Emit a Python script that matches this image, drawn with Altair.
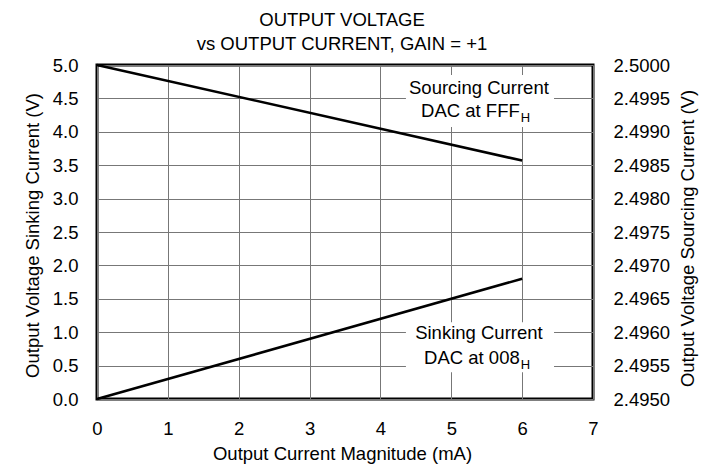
import altair as alt
import pandas as pd

FONT = "Liberation Sans, Arial, sans-serif"
FS = 18.5

# ---- data ----
current_ma = [0, 6]
sinking_v = [0.0, 1.80]          # left axis (V)
sourcing_v = [2.5000, 2.49857]   # right axis (V)

x_ticks = [0, 1, 2, 3, 4, 5, 6, 7]
left_ticks = [0.0, 0.5, 1.0, 1.5, 2.0, 2.5, 3.0, 3.5, 4.0, 4.5, 5.0]
right_ticks = [2.4950, 2.4955, 2.4960, 2.4965, 2.4970, 2.4975,
               2.4980, 2.4985, 2.4990, 2.4995, 2.5000]

# annotation boxes (left-axis units)
box_x = [4.36, 4.36]
box_x2 = [6.45, 6.45]
box_y = [4.85, 1.15]
box_y2 = [4.07, 0.40]

title_lines = ["Sourcing Current", "Sinking Current"]
title_x = [5.39, 5.39]
title_y = [4.66, 0.99]

dac_lines = ["DAC at FFF", "DAC at 008"]
dac_x = [5.966, 5.966]
dac_y = [4.31, 0.61]
sub_text = ["H", "H"]
sub_x = [5.98, 5.98]

sink_df = pd.DataFrame({"i": current_ma, "v": sinking_v})
src_df = pd.DataFrame({"i": current_ma, "v": sourcing_v})
box_df = pd.DataFrame({"i": box_x, "i2": box_x2, "v": box_y, "v2": box_y2})
t1_df = pd.DataFrame({"i": title_x, "v": title_y, "t": title_lines})
t2_df = pd.DataFrame({"i": dac_x, "v": dac_y, "t": dac_lines})
t3_df = pd.DataFrame({"i": sub_x, "v": dac_y, "t": sub_text})

W, H = 496, 334

x_enc = alt.X(
    "i:Q",
    scale=alt.Scale(domain=[0, 7], nice=False, zero=False),
    axis=alt.Axis(values=x_ticks, format="d", title="Output Current Magnitude (mA)",
                  grid=True, labelFlush=False, labelBaseline="middle", labelPadding=29,
                  titleX=W / 2 - 3, titleY=54, titleBaseline="middle"),
)

y_left = alt.Y(
    "v:Q",
    scale=alt.Scale(domain=[0, 5], nice=False, zero=False),
    axis=alt.Axis(values=left_ticks, format=".1f", title="Output Voltage Sinking Current (V)",
                  grid=True, labelPadding=19, orient="left",
                  titleX=-65, titleY=H / 2 + 3, titleAngle=270, titleBaseline="middle",
                  titleAlign="center"),
)

y_right = alt.Y(
    "v:Q",
    scale=alt.Scale(domain=[2.4950, 2.5000], nice=False, zero=False),
    axis=alt.Axis(values=right_ticks, format=".4f", title="Output Voltage Sourcing Current (V)",
                  grid=False, labelPadding=20, orient="right",
                  titleX=94, titleY=H / 2 + 6, titleAngle=270, titleBaseline="middle",
                  titleAlign="center"),
)

boxes = alt.Chart(box_df).mark_rect(color="white").encode(
    x=x_enc, x2="i2:Q", y=y_left, y2="v2:Q")

sink_line = alt.Chart(sink_df).mark_line(color="black", strokeWidth=2.6).encode(x=x_enc, y=y_left)

t1 = alt.Chart(t1_df).mark_text(font=FONT, fontSize=FS, color="black", align="center",
                                baseline="middle").encode(x=x_enc, y=y_left, text="t:N")
t2 = alt.Chart(t2_df).mark_text(font=FONT, fontSize=FS, color="black", align="right",
                                baseline="middle").encode(x=x_enc, y=y_left, text="t:N")
t3 = alt.Chart(t3_df).mark_text(font=FONT, fontSize=13, color="black", align="left",
                                baseline="middle", dy=7).encode(x=x_enc, y=y_left, text="t:N")

left = alt.layer(boxes, sink_line, t1, t2, t3)

right = alt.Chart(src_df).mark_line(color="black", strokeWidth=2.6).encode(x=x_enc, y=y_right)

chart = alt.layer(left, right).resolve_scale(y="independent").properties(
    width=W, height=H,
    autosize="none",
    padding={"left": 89, "top": 57, "right": 121, "bottom": 66},
    title=alt.TitleParams(
        text=["OUTPUT VOLTAGE", "vs OUTPUT CURRENT, GAIN = +1"],
        font=FONT, fontSize=FS, fontWeight="normal", color="black",
        lineHeight=24, anchor="middle", offset=3, dx=-3,
    ),
).configure_view(
    stroke="black", strokeWidth=3
).configure_axis(
    labelFont=FONT, labelFontSize=FS, labelColor="black",
    titleFont=FONT, titleFontSize=FS, titleFontWeight="normal", titleColor="black",
    ticks=False, domain=False, gridColor="#777777", gridWidth=1, gridOpacity=1,
)

chart.save("out.html", embed_options={"renderer": "svg", "actions": False})
